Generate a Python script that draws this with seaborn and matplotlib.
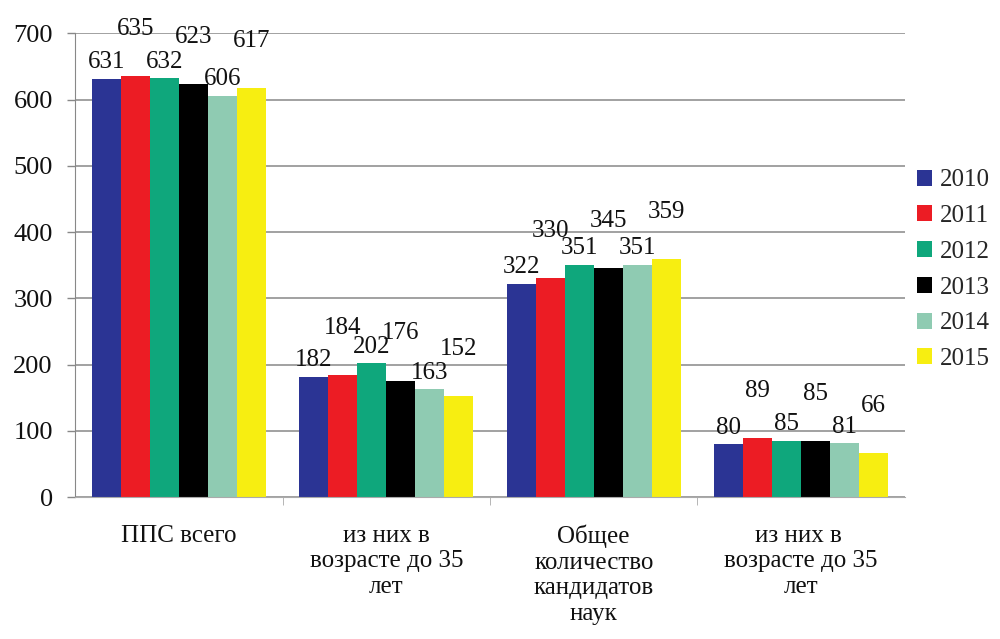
import pandas as pd
import matplotlib
matplotlib.use("Agg")
import matplotlib.pyplot as plt
import seaborn as sns

# Data
categories = ["ППС всего", "из них в\nвозрасте до 35\nлет",
              "Общее\nколичество\nкандидатов\nнаук", "из них в \nвозрасте до 35\nлет"]
years = ["2010", "2011", "2012", "2013", "2014", "2015"]
v2010 = [631, 182, 322, 80]
v2011 = [635, 184, 330, 89]
v2012 = [632, 202, 351, 85]
v2013 = [623, 176, 345, 85]
v2014 = [606, 163, 351, 81]
v2015 = [617, 152, 359, 66]
colors = ["#2B3494", "#EC1C24", "#0FA77C", "#000000", "#8FCBB2", "#F7EE11"]

series = [v2010, v2011, v2012, v2013, v2014, v2015]
rows = []
for y, vals in zip(years, series):
    for c, v in zip(categories, vals):
        rows.append({"cat": c, "year": y, "value": v})
df = pd.DataFrame(rows)

sns.set_style("white")
plt.rcParams["font.family"] = ["Liberation Serif", "DejaVu Serif"]

fig = plt.figure(figsize=(10, 6.39), dpi=100)
ax = fig.add_axes([0.075, 0.222, 0.83, 0.726])

sns.barplot(data=df, x="cat", y="value", hue="year", palette=colors,
            width=0.84, gap=0, ax=ax, saturation=1, edgecolor="none")

# staggered value labels, like the original (alternate heights to avoid overlap)
for i, cont in enumerate(ax.containers):
    ax.bar_label(cont, fmt="%d", padding=4 if i % 2 == 0 else 26, fontsize=18,
                 color="#111111")

ax.set_ylim(0, 700)
ax.set_yticks(range(0, 701, 100))
ax.yaxis.grid(True, color="#9a9a9a", linewidth=1.3)
ax.set_axisbelow(True)
ax.set_xlabel("")
ax.set_ylabel("")
ax.set_xticks([0.5, 1.5, 2.5], minor=True)
ax.tick_params(axis="y", labelsize=19, length=6, width=1, pad=10,
               direction="out", left=True, color="#888888", labelcolor="#111111")
ax.tick_params(axis="x", which="major", labelsize=18, length=0, pad=20,
               labelcolor="#111111")
ax.tick_params(axis="x", which="minor", length=6, bottom=True, direction="out",
               color="#aaaaaa")
for s in ["top", "right"]:
    ax.spines[s].set_visible(False)
ax.spines["left"].set_color("#888888")
ax.spines["bottom"].set_color("#aaaaaa")

ax.legend(loc="center left", bbox_to_anchor=(1.0, 0.49), frameon=False,
          fontsize=18, handlelength=0.6, handleheight=0.6, handletextpad=0.3,
          labelspacing=0.55, borderaxespad=0.1)

fig.savefig("out.png", dpi=100)
